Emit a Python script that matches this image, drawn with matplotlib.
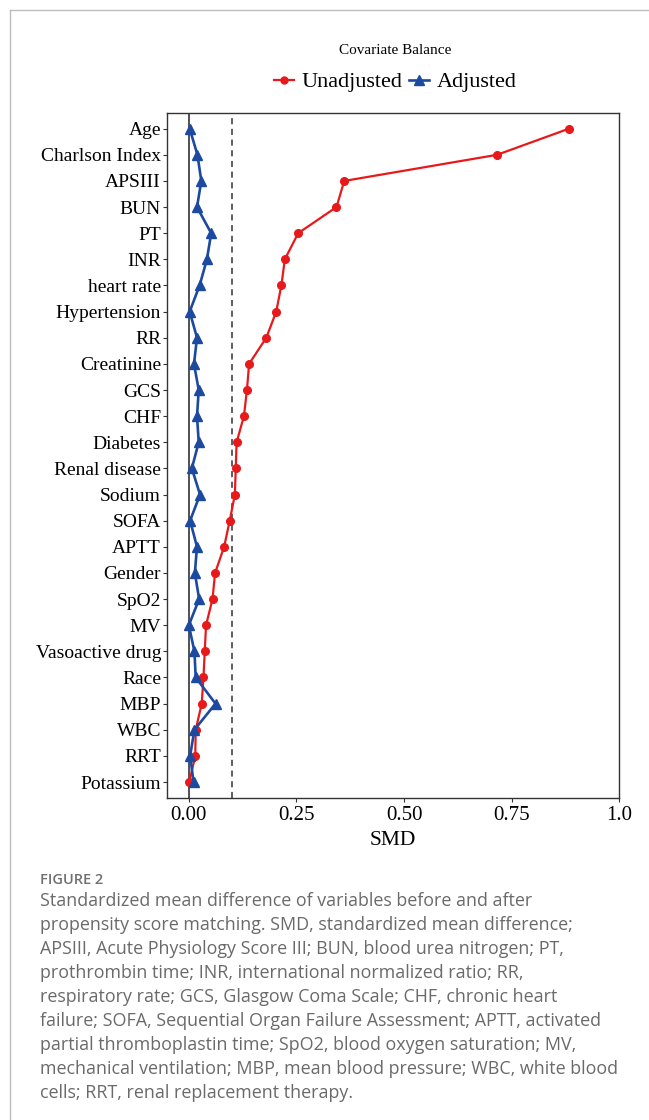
import numpy as np
import matplotlib
matplotlib.use('Agg')
import matplotlib.pyplot as plt
from matplotlib.lines import Line2D

variables = ['Age', 'Charlson Index', 'APSIII', 'BUN', 'PT', 'INR', 'heart rate',
             'Hypertension', 'RR', 'Creatinine', 'GCS', 'CHF', 'Diabetes',
             'Renal disease', 'Sodium', 'SOFA', 'APTT', 'Gender', 'SpO2', 'MV',
             'Vasoactive drug', 'Race', 'MBP', 'WBC', 'RRT', 'Potassium']

unadjusted = [0.883, 0.716, 0.361, 0.343, 0.254, 0.223, 0.215, 0.203, 0.180,
              0.140, 0.135, 0.128, 0.111, 0.109, 0.107, 0.095, 0.082, 0.061,
              0.055, 0.040, 0.037, 0.034, 0.030, 0.016, 0.015, 0.001]

adjusted = [0.002, 0.020, 0.029, 0.019, 0.052, 0.042, 0.025, 0.002, 0.019,
            0.012, 0.023, 0.019, 0.023, 0.007, 0.026, 0.003, 0.019, 0.014,
            0.024, 0.000, 0.013, 0.016, 0.062, 0.013, 0.003, 0.011]

x_ticks = [0.0, 0.25, 0.5, 0.75, 1.0]
x_tick_labels = ['0.00', '0.25', '0.50', '0.75', '1.0']
threshold = 0.1

caption_lines = [
    'Standardized mean difference of variables before and after',
    'propensity score matching. SMD, standardized mean difference;',
    'APSIII, Acute Physiology Score III; BUN, blood urea nitrogen; PT,',
    'prothrombin time; INR, international normalized ratio; RR,',
    'respiratory rate; GCS, Glasgow Coma Scale; CHF, chronic heart',
    'failure; SOFA, Sequential Organ Failure Assessment; APTT, activated',
    'partial thromboplastin time; SpO2, blood oxygen saturation; MV,',
    'mechanical ventilation; MBP, mean blood pressure; WBC, white blood',
    'cells; RRT, renal replacement therapy.',
]

RED = '#E8191B'
BLUE = '#1B4AA0'
SERIF = ['Liberation Serif', 'DejaVu Serif']
W, H = 649, 1120

fig = plt.figure(figsize=(W / 100, H / 100), dpi=100)
ax = fig.add_axes([167.3 / W, 1 - 797.7 / H, (619.3 - 167.3) / W, (797.7 - 113) / H])

y = np.arange(len(variables))[::-1]

ax.axvline(0, color='#222222', lw=1.1, zorder=1)
ax.axvline(threshold, color='#333333', lw=1.1, ls=(0, (4, 3)), zorder=1)

ax.plot(unadjusted, y, color=RED, lw=1.6, marker='o', ms=5.5, zorder=3)
ax.plot(adjusted, y, color=BLUE, lw=1.9, marker='^', ms=7, zorder=4)

ax.set_xlim(-0.05, 1.0)
ax.set_ylim(-0.6, len(variables) - 0.4)
ax.set_yticks(y)
ax.set_yticklabels(variables, family=SERIF, fontsize=14)
ax.set_xticks(x_ticks)
ax.set_xticklabels(x_tick_labels, family=SERIF, fontsize=15)
ax.tick_params(axis='both', length=3, width=0.8, color='#333333', pad=1.5)
ax.tick_params(axis='x', pad=3)
ax.set_xlabel('SMD', family=SERIF, fontsize=15.5, labelpad=4)
for s in ax.spines.values():
    s.set_color('#333333')
    s.set_linewidth(1.0)

handles = [
    Line2D([], [], color=RED, lw=1.6, marker='o', ms=5),
    Line2D([], [], color=BLUE, lw=1.9, marker='^', ms=6.5),
]
leg = fig.legend(handles, ['Unadjusted', 'Adjusted'], ncol=2, frameon=False,
                 loc='center', bbox_to_anchor=(395 / W, 1 - 68 / H),
                 title='Covariate Balance', handlelength=0.9, handletextpad=0.35,
                 columnspacing=0.3, prop={'family': SERIF, 'size': 16})
leg.get_title().set_fontfamily(SERIF)
leg.get_title().set_fontsize(11)
leg._legend_box.sep = 11

# page frame
fig.add_artist(Line2D([9.5 / W, 9.5 / W], [0, 1 - 9.5 / H], color='#bdbdbd', lw=1))
fig.add_artist(Line2D([9.5 / W, 1], [1 - 9.5 / H, 1 - 9.5 / H], color='#bdbdbd', lw=1))

fig.text(40 / W, 1 - 880 / H, 'FIGURE 2', family='Open Sans', fontsize=10.5,
         fontweight='semibold', color='#707070', va='center')
for i, line in enumerate(caption_lines):
    fig.text(40 / W, 1 - (901 + 24 * i) / H, line, family='Open Sans', fontsize=12.9,
             color='#6a6a6a', va='center')

fig.savefig('out.png', dpi=100)
